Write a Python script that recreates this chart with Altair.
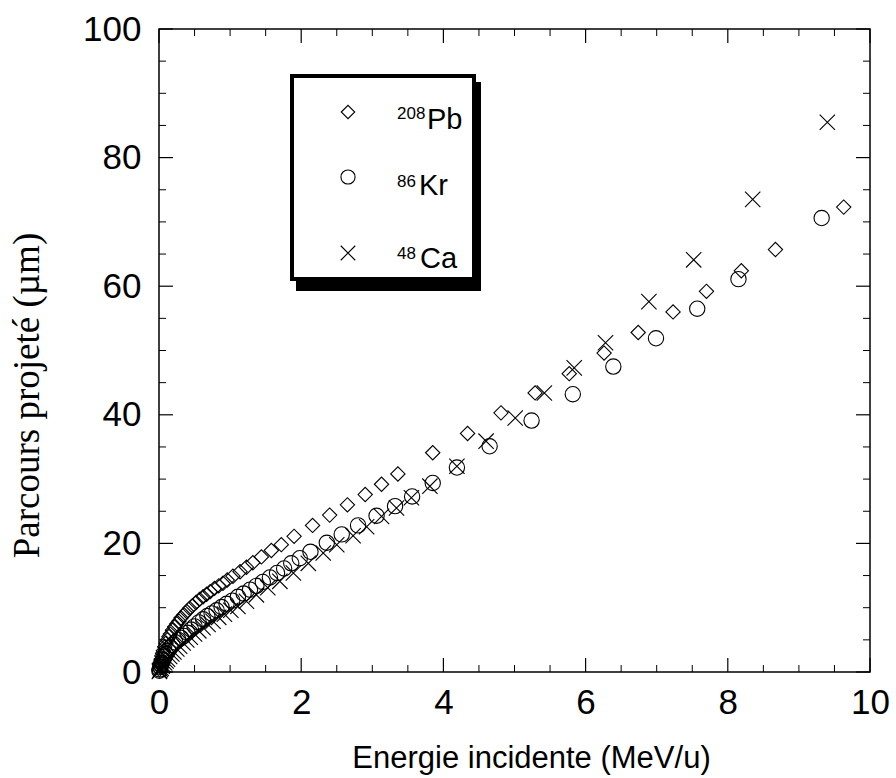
import altair as alt
import pandas as pd

# ---------------- data ----------------
pb_energy = [0.005, 0.01, 0.015, 0.02, 0.03, 0.04, 0.05, 0.06, 0.08, 0.10,
             0.12, 0.14, 0.16, 0.19, 0.22, 0.25, 0.28, 0.31, 0.35, 0.39,
             0.43, 0.47, 0.52, 0.57, 0.62, 0.67, 0.72, 0.78, 0.84, 0.90,
             0.96, 1.04, 1.14, 1.23, 1.32, 1.44, 1.58, 1.72, 1.90, 2.16,
             2.40, 2.65, 2.90, 3.13, 3.36, 3.85, 4.34, 4.81, 5.29, 5.77,
             6.26, 6.74, 7.23, 7.70, 8.19, 8.67, 9.63]
pb_range = [0.4, 0.8, 1.1, 1.4, 2.0, 2.5, 2.9, 3.3, 3.9, 4.5,
            5.0, 5.5, 5.9, 6.5, 7.0, 7.5, 7.9, 8.4, 8.9, 9.4,
            9.9, 10.3, 10.8, 11.3, 11.7, 12.1, 12.5, 13.0, 13.4, 13.8,
            14.3, 14.9, 15.6, 16.3, 17.0, 17.9, 18.9, 19.8, 21.1, 22.8,
            24.4, 26.0, 27.6, 29.2, 30.8, 34.1, 37.1, 40.3, 43.4, 46.4,
            49.6, 52.8, 56.0, 59.2, 62.4, 65.7, 72.3]

kr_energy = [0.005, 0.01, 0.02, 0.03, 0.04, 0.06, 0.08, 0.10, 0.13, 0.16,
             0.19, 0.23, 0.27, 0.31, 0.35, 0.40, 0.45, 0.50, 0.56, 0.62,
             0.68, 0.74, 0.81, 0.88, 0.95, 1.03, 1.11, 1.19, 1.28, 1.37,
             1.46, 1.56, 1.66, 1.76, 1.86, 1.98, 2.13, 2.36, 2.57, 2.80,
             3.06, 3.32, 3.56, 3.85, 4.19, 4.65, 5.24, 5.82, 6.39, 6.99,
             7.57, 8.15, 9.32]
kr_range = [0.2, 0.4, 0.8, 1.1, 1.4, 1.9, 2.4, 2.8, 3.3, 3.8,
            4.2, 4.6, 5.0, 5.3, 5.6, 6.1, 6.6, 7.1, 7.7, 8.2,
            8.7, 9.1, 9.6, 10.1, 10.6, 11.1, 11.7, 12.2, 12.8, 13.4,
            14.0, 14.7, 15.4, 16.1, 16.9, 17.7, 18.7, 20.1, 21.4, 22.8,
            24.3, 25.8, 27.3, 29.4, 31.8, 35.1, 39.1, 43.2, 47.5, 51.9,
            56.5, 61.1, 70.6]

ca_energy = [0.005, 0.01, 0.02, 0.03, 0.045, 0.06, 0.08, 0.10, 0.12, 0.15,
             0.18, 0.21, 0.25, 0.29, 0.34, 0.39, 0.44, 0.50, 0.56, 0.62,
             0.69, 0.76, 0.84, 0.92, 1.01, 1.11, 1.23, 1.37, 1.53, 1.70,
             1.89, 2.10, 2.31, 2.50, 2.73, 2.92, 3.13, 3.34, 3.55, 3.81,
             4.19, 4.60, 5.01, 5.42, 5.84, 6.28, 6.89, 7.52, 8.35, 9.40]
ca_range = [0.1, 0.2, 0.4, 0.6, 0.9, 1.1, 1.4, 1.7, 2.0, 2.4,
            2.8, 3.1, 3.6, 4.0, 4.5, 5.0, 5.4, 5.9, 6.4, 6.9,
            7.4, 7.9, 8.5, 9.0, 9.6, 10.2, 11.0, 12.0, 13.1, 14.1,
            15.4, 16.9, 18.5, 19.8, 21.2, 22.6, 24.2, 25.5, 27.1, 28.9,
            32.0, 35.9, 39.5, 43.4, 47.3, 51.2, 57.6, 64.1, 73.5, 85.5]

x_major_ticks = [0, 2, 4, 6, 8, 10]
x_minor_ticks = [0.5, 1.0, 1.5, 2.5, 3.0, 3.5, 4.5, 5.0, 5.5, 6.5, 7.0, 7.5, 8.5, 9.0, 9.5]
y_major_ticks = [0, 20, 40, 60, 80, 100]
y_minor_ticks = [5, 10, 15, 25, 30, 35, 45, 50, 55, 65, 70, 75, 85, 90, 95]

legend_mass = ["208", "86", "48"]
legend_element = ["Pb", "Kr", "Ca"]

x_title = "Energie incidente (MeV/u)"
y_title = "Parcours projeté (µm)"

# ---------------- layout / style ----------------
W, H = 711, 643
SANS = "Liberation Sans"
SERIF = "Liberation Serif"
CROSS = "M-1,-1L1,1M-1,1L1,-1"

xs = alt.Scale(domain=[0, 10], nice=False, zero=False)
ys = alt.Scale(domain=[0, 100], nice=False, zero=False)

x_axis = alt.Axis(values=x_major_ticks, format="d", ticks=False, tickSize=0, domain=False,
                  grid=False, labelFont=SANS, labelFontSize=35, labelColor="black",
                  labelPadding=13, labelFlush=False, labelOverlap=False,
                  title=x_title, titleFont=SANS, titleFontSize=31, titleFontWeight="normal",
                  titleColor="black", titleX=372, titleY=95, titleAnchor="middle",
                  titleAlign="center", titleBaseline="alphabetic")
y_axis = alt.Axis(values=y_major_ticks, format="d", ticks=False, tickSize=0, domain=False,
                  grid=False, labelFont=SANS, labelFontSize=35, labelColor="black",
                  labelPadding=18, labelFlush=False, labelOverlap=False,
                  title=y_title, titleFont=SERIF, titleFontSize=37, titleFontWeight="normal",
                  titleColor="black", titleAngle=270, titleX=-121, titleY=366,
                  titleAlign="center", titleBaseline="alphabetic")


def series(xv, yv, shape, size):
    df = pd.DataFrame({"e": xv, "r": yv})
    return alt.Chart(df).mark_point(shape=shape, size=size, filled=False, color="black",
                                    strokeWidth=1.1, opacity=1).encode(
        x=alt.X("e:Q", scale=xs, axis=x_axis, title=x_title),
        y=alt.Y("r:Q", scale=ys, axis=y_axis, title=y_title),
    )


layers = [
    series(pb_energy, pb_range, "diamond", 205),
    series(kr_energy, kr_range, "circle", 235),
    series(ca_energy, ca_range, CROSS, 235),
]


def xticks(vals, length, width):
    df = pd.DataFrame({"e": vals})
    base = alt.Chart(df).mark_rule(color="black", strokeWidth=width)
    xenc = alt.X("e:Q", scale=xs, axis=x_axis, title=x_title)
    bottom = base.encode(x=xenc, y=alt.value(H), y2=alt.value(H - length))
    top = base.encode(x=xenc, y=alt.value(0), y2=alt.value(length))
    return [bottom, top]


def yticks(vals, length, width):
    df = pd.DataFrame({"r": vals})
    base = alt.Chart(df).mark_rule(color="black", strokeWidth=width)
    yenc = alt.Y("r:Q", scale=ys, axis=y_axis, title=y_title)
    left = base.encode(y=yenc, x=alt.value(0), x2=alt.value(length))
    right = base.encode(y=yenc, x=alt.value(W), x2=alt.value(W - length))
    return [left, right]


layers += xticks(x_major_ticks, 14, 1.2) + xticks(x_minor_ticks, 7, 1)
layers += yticks(y_major_ticks, 14, 1.2) + yticks(y_minor_ticks, 7, 1)

# ---------------- legend box (drawn) ----------------
one = pd.DataFrame({"a": [0]})
shadow = alt.Chart(one).mark_rect(color="black").encode(
    x=alt.value(137), x2=alt.value(322), y=alt.value(53), y2=alt.value(262))
box = alt.Chart(one).mark_rect(fill="white", stroke="black", strokeWidth=4).encode(
    x=alt.value(133), x2=alt.value(315), y=alt.value(47), y2=alt.value(250))
layers += [shadow, box]

sym_y = [83, 148, 224]
sym_shape = ["diamond", "circle", CROSS]
sym_size = [180, 200, 210]
mass_base = [90, 158, 230]
elem_base = [100, 166, 239]
elem_x = [268, 260, 261]
for i in range(3):
    layers.append(alt.Chart(one).mark_point(shape=sym_shape[i], size=sym_size[i], filled=False,
                                            color="black", strokeWidth=1.1, opacity=1).encode(
        x=alt.value(189), y=alt.value(sym_y[i])))
    layers.append(alt.Chart(pd.DataFrame({"t": [legend_mass[i]]})).mark_text(
        font=SANS, fontSize=17, color="black", align="left", baseline="alphabetic").encode(
        text="t:N", x=alt.value(238), y=alt.value(mass_base[i])))
    layers.append(alt.Chart(pd.DataFrame({"t": [legend_element[i]]})).mark_text(
        font=SANS, fontSize=29, color="black", align="left", baseline="alphabetic").encode(
        text="t:N", x=alt.value(elem_x[i]), y=alt.value(elem_base[i])))

chart = alt.layer(*layers).properties(
    width=W, height=H,
    padding={"left": 159, "top": 29, "right": 26, "bottom": 106},
    autosize="none",
    background="white",
).configure_view(stroke="black", strokeWidth=1.5)

chart.save("out.html", embed_options={"renderer": "svg", "actions": False})
